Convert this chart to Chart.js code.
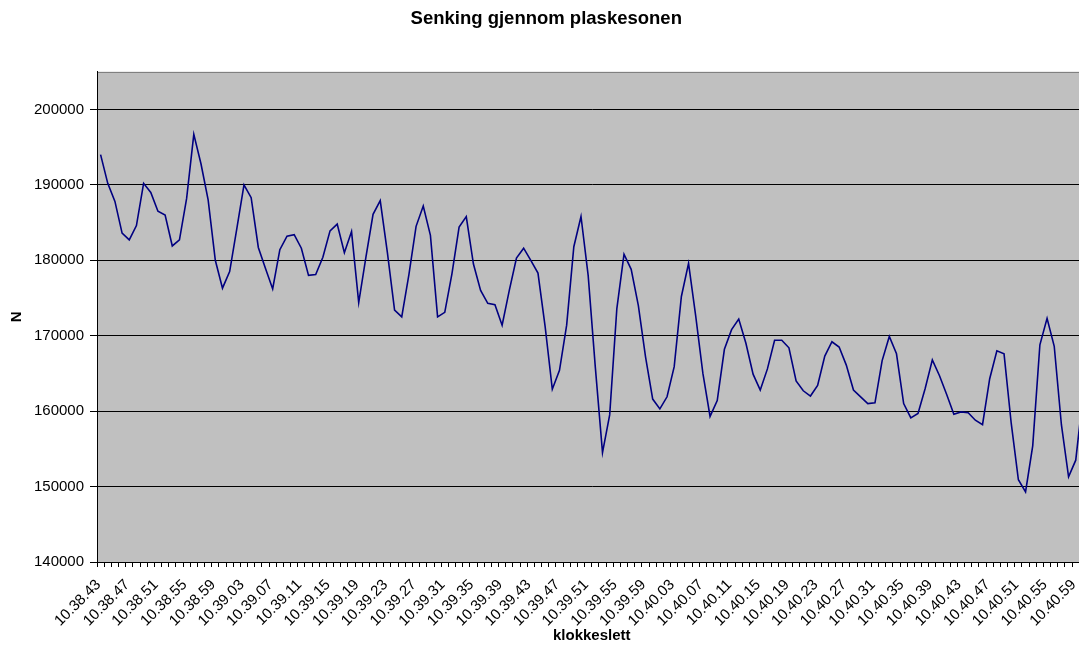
<!DOCTYPE html>
<html lang="no">
<head>
<meta charset="utf-8">
<title>Senking gjennom plaskesonen</title>
<script src="https://cdn.jsdelivr.net/npm/chart.js@4/dist/chart.umd.min.js"></script>
<style>
  html, body { margin: 0; padding: 0; background: #ffffff; overflow: hidden; }
  canvas { display: block; }
</style>
</head>
<body>
<canvas id="chart" width="1092" height="654"></canvas>
<script>
// Klokkeslett (ett målepunkt per sekund)
const categories = [
  "10.38.43","10.38.44","10.38.45","10.38.46","10.38.47","10.38.48","10.38.49","10.38.50",
  "10.38.51","10.38.52","10.38.53","10.38.54","10.38.55","10.38.56","10.38.57","10.38.58","10.38.59",
  "10.39.00","10.39.01","10.39.02","10.39.03","10.39.04","10.39.05","10.39.06","10.39.07","10.39.08","10.39.09",
  "10.39.10","10.39.11","10.39.12","10.39.13","10.39.14","10.39.15","10.39.16","10.39.17","10.39.18","10.39.19",
  "10.39.20","10.39.21","10.39.22","10.39.23","10.39.24","10.39.25","10.39.26","10.39.27","10.39.28","10.39.29",
  "10.39.30","10.39.31","10.39.32","10.39.33","10.39.34","10.39.35","10.39.36","10.39.37","10.39.38","10.39.39",
  "10.39.40","10.39.41","10.39.42","10.39.43","10.39.44","10.39.45","10.39.46","10.39.47","10.39.48","10.39.49",
  "10.39.50","10.39.51","10.39.52","10.39.53","10.39.54","10.39.55","10.39.56","10.39.57","10.39.58","10.39.59",
  "10.40.00","10.40.01","10.40.02","10.40.03","10.40.04","10.40.05","10.40.06","10.40.07","10.40.08","10.40.09",
  "10.40.10","10.40.11","10.40.12","10.40.13","10.40.14","10.40.15","10.40.16","10.40.17","10.40.18","10.40.19",
  "10.40.20","10.40.21","10.40.22","10.40.23","10.40.24","10.40.25","10.40.26","10.40.27","10.40.28","10.40.29",
  "10.40.30","10.40.31","10.40.32","10.40.33","10.40.34","10.40.35","10.40.36","10.40.37","10.40.38","10.40.39",
  "10.40.40","10.40.41","10.40.42","10.40.43","10.40.44","10.40.45","10.40.46","10.40.47","10.40.48","10.40.49",
  "10.40.50","10.40.51","10.40.52","10.40.53","10.40.54","10.40.55","10.40.56","10.40.57","10.40.58","10.40.59",
  "10.41.00"
];

// Kraft N
const forceN = [
  194000, 190200, 187800, 183600, 182700, 184600, 190200, 189000, 186500, 186000,
  181900, 182700, 188200, 196700, 192800, 188000, 180000, 176300, 178500, 184200,
  190000, 188300, 181700, 178900, 176200, 181400, 183200, 183400, 181600, 178000,
  178100, 180400, 183900, 184800, 181000, 183800, 174400, 180400, 186100, 187900,
  181000, 173400, 172500, 178100, 184500, 187200, 183300, 172500, 173100, 178200,
  184400, 185800, 179500, 176000, 174300, 174100, 171400, 176000, 180300, 181600,
  180000, 178300, 171200, 162900, 165400, 171400, 181800, 185800, 178000, 165800,
  154500, 159500, 173600, 180800, 178800, 174000, 167200, 161600, 160300, 161900,
  165900, 175200, 179600, 172600, 165000, 159300, 161400, 168200, 170800, 172200,
  169000, 164900, 162800, 165600, 169400, 169400, 168400, 164000, 162700, 162000,
  163400, 167300, 169200, 168500, 166100, 162800, 161900, 161000, 161100, 166700,
  169900, 167600, 161000, 159100, 159700, 163000, 166800, 164700, 162200, 159600,
  159900, 159800, 158800, 158200, 164300, 168000, 167600, 158400, 150900, 149300,
  155400, 168800, 172300, 168600, 158200, 151300, 153500, 162000
];

// Verdiakse
const yMin = 140000;
const yMax = 205000;
const yTickValues = [140000, 150000, 160000, 170000, 180000, 190000, 200000];
const labelEvery = 4;

const fontFamily = "'Liberation Sans', Arial, sans-serif";

// Grå plottflate med kantlinje
const plotBackground = {
  id: 'plotBackground',
  beforeDraw(chart) {
    const { ctx, chartArea: a } = chart;
    ctx.save();
    ctx.fillStyle = '#c0c0c0';
    ctx.fillRect(a.left, a.top, a.right - a.left, a.bottom - a.top);
    ctx.strokeStyle = '#808080';
    ctx.lineWidth = 1;
    ctx.strokeRect(Math.round(a.left) + 0.5, Math.round(a.top) + 0.5,
                   Math.round(a.right - a.left), Math.round(a.bottom - a.top));
    ctx.restore();
  }
};

new Chart(document.getElementById('chart'), {
  type: 'line',
  data: {
    labels: categories,
    datasets: [{
      label: 'N',
      data: forceN,
      borderColor: '#000080',
      borderWidth: 1.6,
      pointRadius: 0,
      tension: 0,
      fill: false
    }]
  },
  options: {
    responsive: false,
    animation: false,
    devicePixelRatio: 1,
    layout: { padding: { left: 6, right: 5.5, top: 0, bottom: 0 } },
    plugins: {
      legend: { display: false },
      tooltip: { enabled: false },
      title: {
        display: true,
        text: 'Senking gjennom plaskesonen',
        color: '#000000',
        font: { family: fontFamily, size: 18.5, weight: 'bold' },
        padding: { top: 8, bottom: 41.5 }
      }
    },
    scales: {
      x: {
        type: 'category',
        offset: true,
        border: { display: true, color: '#000000', width: 1 },
        grid: {
          offset: true,
          drawOnChartArea: false,
          drawTicks: true,
          tickLength: 5,
          color: '#000000'
        },
        ticks: {
          autoSkip: false,
          minRotation: 45,
          maxRotation: 45,
          padding: 9,
          labelOffset: -2,
          color: '#000000',
          font: { family: fontFamily, size: 15 },
          callback(value, index) {
            return index % labelEvery === 0 ? this.getLabelForValue(value) : '';
          }
        },
        title: {
          display: true,
          text: 'klokkeslett',
          color: '#000000',
          font: { family: fontFamily, size: 15, weight: 'bold' },
          padding: { top: 0, bottom: 9 }
        },
        afterFit(scale) {
          scale.height = 92;
          scale.paddingLeft = 0;
          scale.paddingRight = 0;
        }
      },
      y: {
        min: yMin,
        max: yMax,
        border: { display: true, color: '#000000', width: 1 },
        grid: {
          color: '#000000',
          drawTicks: true,
          tickLength: 7,
          lineWidth: 1
        },
        ticks: {
          padding: 6,
          color: '#000000',
          font: { family: fontFamily, size: 15 },
          callback(value) { return String(value); }
        },
        afterBuildTicks(scale) {
          scale.ticks = yTickValues.map(v => ({ value: v }));
        },
        title: {
          display: true,
          text: 'N',
          color: '#000000',
          font: { family: fontFamily, size: 15, weight: 'bold' },
          padding: { top: 2, bottom: 0 }
        },
        afterFit(scale) { scale.width = 91; }
      }
    }
  },
  plugins: [plotBackground]
});
</script>
</body>
</html>
